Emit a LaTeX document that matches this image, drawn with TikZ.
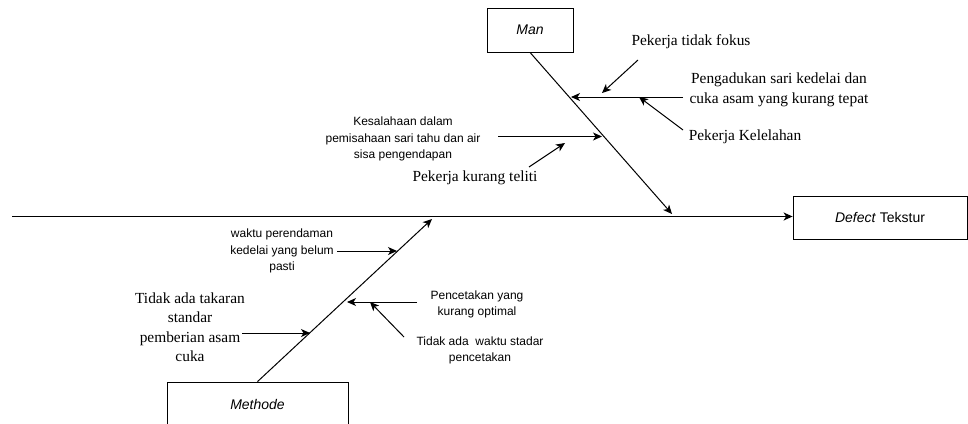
\documentclass[tikz,border=0pt]{standalone}
\usepackage{fontspec}
\setmainfont{Liberation Serif}
\setsansfont{Liberation Sans}
\usetikzlibrary{arrows.meta}
\begin{document}
\begin{tikzpicture}[x=1pt,y=-1pt,
  line/.style={line width=1pt},
  arr/.style={line width=1pt,-{Stealth[length=9pt,width=8pt,inset=2.5pt]}},
  headbox/.style={draw,line width=0.8pt,minimum width=86pt,minimum height=44pt,inner sep=0pt,
    font=\sffamily\itshape\fontsize{14}{16}\selectfont},
  sans/.style={align=center,inner sep=0pt,font=\sffamily\fontsize{12}{16.5}\selectfont},
  serif/.style={align=center,inner sep=0pt,font=\fontsize{15.4}{19.5}\selectfont}]
\useasboundingbox (0,0) rectangle (968,423);

% effect box and main spine
\node[draw,line width=0.8pt,minimum width=174pt,minimum height=43pt,inner sep=0pt,
  font=\sffamily\fontsize{14}{16}\selectfont] (defect) at (880,217.5) {\textit{Defect} Tekstur};
\coordinate (spineL) at (12,216.5);
\draw[arr,line width=1.3pt] (spineL) -- (spineL -| defect.west);

% category boxes
\node[headbox] (man) at (530,30) {Man};
\node[headbox,minimum width=181pt] (meth) at (257.5,404) {Methode};

% bones
\coordinate (manEnd) at (672,214);
\coordinate (methEnd) at (432,219);
\draw[arr] (man.south) -- (manEnd);
\draw[arr] (meth.north) -- (methEnd);

% causes on the Man bone
\node[serif] (fokus) at (691,42) {Pekerja tidak fokus};
\node[serif] (aduk) at (779,90) {Pengadukan sari kedelai dan\\cuka asam yang kurang tepat};
\node[serif] (lelah) at (745,137) {Pekerja Kelelahan};
\node[sans] (salah) at (403,139) {Kesalahaan dalam\\pemisahaan sari tahu dan air\\sisa pengendapan};
\node[serif] (teliti) at (475,178) {Pekerja kurang teliti};

\coordinate (adukS) at (683,97);
\coordinate (adukT) at (571,97);
\coordinate (fokusS) at (638,60);
\coordinate (fokusT) at (602,93);
\coordinate (lelahS) at (683,130);
\coordinate (lelahT) at (639,97);
\coordinate (salahS) at (498,136.5);
\coordinate (salahT) at (602,136.5);
\coordinate (telitiS) at (529,167);
\coordinate (telitiT) at (565,143);
\draw[arr] (adukS) -- (adukT);
\draw[arr] (fokusS) -- (fokusT);
\draw[arr] (lelahS) -- (lelahT);
\draw[arr] (salahS) -- (salahT);
\draw[arr] (telitiS) -- (telitiT);

% causes on the Methode bone
\node[sans] (rendam) at (282,251) {waktu perendaman\\kedelai yang belum\\pasti};
\node[serif] (takar) at (190,327) {Tidak ada takaran\\standar\\pemberian asam\\cuka};
\node[sans] (cetak) at (477,304.5) {Pencetakan yang\\kurang optimal};
\node[sans] (stadar) at (480,350.5) {Tidak ada\ \ waktu stadar\\pencetakan};

\coordinate (rendamS) at (337,251);
\coordinate (rendamT) at (397,251);
\coordinate (takarS) at (242,333);
\coordinate (takarT) at (310,333);
\coordinate (cetakS) at (417,302);
\coordinate (cetakT) at (347,302);
\coordinate (stadarS) at (404,337);
\coordinate (stadarT) at (370,302);
\draw[arr] (rendamS) -- (rendamT);
\draw[arr] (takarS) -- (takarT);
\draw[arr] (cetakS) -- (cetakT);
\draw[arr] (stadarS) -- (stadarT);
\end{tikzpicture}
\end{document}
